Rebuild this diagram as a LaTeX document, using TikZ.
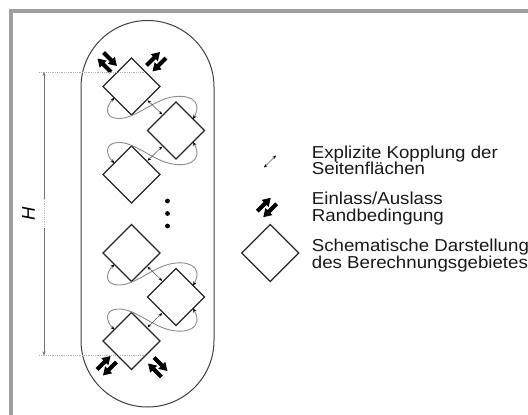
\documentclass[tikz,border=0pt]{standalone}
\usepackage{fontspec}
\setmainfont{Liberation Sans}
\newfontfamily\legfont[FakeStretch=1.08]{Liberation Sans}
\usetikzlibrary{shapes.geometric,arrows.meta,calc}
\tikzset{
  dia/.style={draw=black!85, line width=1.2pt, diamond, aspect=1, minimum size=57pt, inner sep=0pt, outer sep=0pt},
  kurve/.style={draw=black!45, line width=0.9pt, {Stealth[length=4pt,width=3.4pt,color=black]}-{Stealth[length=4pt,width=3.4pt,color=black]}},
  kurz/.style={draw=black!70, line width=0.5pt, shorten <=1pt, shorten >=1pt, {Stealth[length=3.6pt,width=3pt,color=black]}-{Stealth[length=3.6pt,width=3pt,color=black]}},
  dim/.style={draw=black!55, line width=0.8pt},
  hilf/.style={draw=black!30, line width=0.8pt, densely dotted},
  legtext/.style={anchor=base west, inner sep=0pt, font=\legfont\fontsize{17.3}{17.3}\selectfont, text=black!90},
  io/.pic={
    \fill[black] (-9.5,-6.2) -- (1.5,-6.2) -- (1.5,-9.2) -- (9.5,-4.2) -- (1.5,0.8) -- (1.5,-2.2) -- (-9.5,-2.2) -- cycle;
    \fill[black] (9.5,6.2) -- (-1.5,6.2) -- (-1.5,9.2) -- (-9.5,4.2) -- (-1.5,-0.8) -- (-1.5,2.2) -- (9.5,2.2) -- cycle;
  }
}
\newcommand\kopplungab[2]{%
  \draw[kurve] ($(#1.west)!0.4!(#1.south)$) .. controls ($(#1)+(-25.5,19.5)$) and ($(#1)+(-27.5,31.5)$) .. ($(#1)+(-13.5,32)$) .. controls ($(#1)+(2.5,32.5)$) and ($(#1)+(18.5,16.5)$) .. ($(#1)+(36.5,11.5)$) .. controls ($(#1)+(54.5,6.5)$) and ($(#1)+(72.5,12.5)$) .. ($(#2.north)!0.6!(#2.east)$);
  \draw[kurz] ($(#1.south)!0.54!(#1.east)$) -- ($(#2.west)!0.54!(#2.north)$);
}
\newcommand\kopplungba[2]{%
  \draw[kurve] ($(#2.west)!0.4!(#2.north)$) .. controls ($(#2)+(-25.5,-19.5)$) and ($(#2)+(-27.5,-31.5)$) .. ($(#2)+(-13.5,-32)$) .. controls ($(#2)+(2.5,-32.5)$) and ($(#2)+(18.5,-16.5)$) .. ($(#2)+(36.5,-11.5)$) .. controls ($(#2)+(54.5,-6.5)$) and ($(#2)+(72.5,-12.5)$) .. ($(#1.south)!0.6!(#1.east)$);
  \draw[kurz] ($(#1.west)!0.54!(#1.south)$) -- ($(#2.north)!0.54!(#2.east)$);
}
\begin{document}
\begin{tikzpicture}[x=1pt,y=-1pt]
\useasboundingbox (0,0) rectangle (528,415);
% frame
\draw[black!38, line width=3.7pt] (10.85,10.85) rectangle (580,460);
% stadium
\draw[black!75, line width=1pt, rounded corners=66.5pt] (81,20.5) rectangle (214,407);
% diamonds
\node[dia] (d1) at (131.5,86.5) {};
\node[dia] (d2) at (176,130.5) {};
\node[dia] (d3) at (131.5,174.5) {};
\node[dia] (d4) at (131.5,253) {};
\node[dia] (d5) at (176,297) {};
\node[dia] (d6) at (131.5,341) {};
% couplings
\kopplungab{d1}{d2}
\kopplungba{d2}{d3}
\kopplungab{d4}{d5}
\kopplungba{d5}{d6}
% dots
\fill (167.5,201) circle[radius=2.4pt];
\fill (167.5,213.5) circle[radius=2.4pt];
\fill (167.5,226) circle[radius=2.4pt];
% inlet / outlet arrows
\pic[rotate=135] at ($(d1.north west)+(-10,-10)$) {io};
\pic[rotate=45] at ($(d1.north east)+(10.5,-10.5)$) {io};
\pic[rotate=225] at ($(d6.south west)+(-10.5,10.5)$) {io};
\pic[rotate=315] at ($(d6.south east)+(12,12)$) {io};
% dimension H
\coordinate (ht) at (44,72);
\coordinate (hm1) at (44,199);
\coordinate (hm2) at (44,228);
\coordinate (hb) at (44,355.5);
\coordinate (lt1) at (39,72);
\coordinate (lt2) at (144,72);
\coordinate (lb1) at (39,355.5);
\coordinate (lb2) at (144,355.5);
\draw[hilf] (lt1) -- (lt2);
\draw[hilf] (lb1) -- (lb2);
\draw[dim, {Stealth[length=4pt,width=3pt]}-] (ht) -- (hm1);
\draw[black!25, line width=0.8pt, densely dotted] (hm1) -- (hm2);
\draw[dim, -{Stealth[length=4pt,width=3pt]}] (hm2) -- (hb);
\node[rotate=90, inner sep=0pt, font=\fontsize{18.5}{18.5}\selectfont\itshape] (hl) at (28.5,214) {H};
% legend
\coordinate (lk1) at (264,167.5);
\coordinate (lk2) at (276,155.5);
\draw[kurz, shorten <=0pt, shorten >=0pt] (lk1) -- (lk2);
\pic[rotate=45] at (267,207.5) {io};
\node[dia] (dl) at (270.3,253) {};
\node[legtext] (t1a) at (311.7,158) {Explizite Kopplung der};
\node[legtext] (t1b) at (311.7,174.6) {Seitenflächen};
\node[legtext] (t2a) at (311.7,204.6) {Einlass/Auslass};
\node[legtext] (t2b) at (311.7,221.2) {Randbedingung};
\node[legtext] (t3a) at (311.7,251.6) {Schematische Darstellung};
\node[legtext] (t3b) at (311.7,268.2) {des Berechnungsgebietes};
\end{tikzpicture}
\end{document}
